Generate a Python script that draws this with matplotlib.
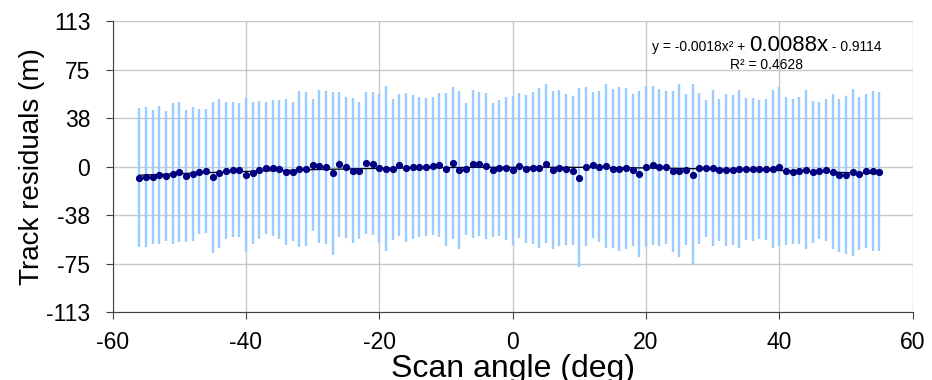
import numpy as np
import matplotlib
matplotlib.use('Agg')
import matplotlib.pyplot as plt

# Dados: ângulo de varredura (graus), resíduo médio e desvio (m)
angulo = list(range(-56, 56))

residuo = [
    -8.7, -8.0, -8.2, -6.7, -7.5, -5.7, -4.4, -7.5, -5.7, -4.1, -3.6, -8.5, -5.1, -3.1, -2.6, -2.8, -6.9, -4.9, -2.7,
    -1.3, -1.3, -2.3, -4.1, -4.1, -2.1, -2.1, 1.5, 0.3, -0.5, -5.4, 1.8, -0.5, -3.1, -3.3, 2.6, 2.1, -1.5,
    -1.8, -2.1, 1.3, -0.8, -0.5, -0.5, -0.5, 0.3, 1.3, -2.1, 2.6, -2.6, -2.1, 1.8, 1.8, 0.3, -2.6, -1.3, -1.5,
    -2.8, 0.5, -2.1, -1.0, -1.0, 2.1, -2.6, -1.3, -2.3, -3.1, -8.7, -0.3, 1.0, 0.0, 0.5, -1.8, -1.8, -1.3, -2.6,
    -5.9, 0.0, 1.0, -0.5, -0.5, -3.6, -3.3, -2.6, -6.4, -1.5, -1.5, -1.0, -2.6, -2.6, -2.8, -1.8, -2.1, -2.3, -2.1,
    -2.3, -1.8, 0.0, -3.6, -3.9, -3.3, -2.6, -4.1, -3.1, -2.6, -4.1, -6.9, -6.7, -4.6, -5.7, -3.3, -3.6, -3.9,
]

desvio = [
    53.9, 54.2, 52.0, 53.5, 50.7, 54.8, 54.4, 51.3, 51.8, 48.6, 48.4, 58.4, 57.9, 52.9, 52.5, 52.1, 59.8, 55.0, 53.9,
    51.1, 52.6, 54.2, 56.8, 54.1, 60.6, 59.8, 51.2, 59.4, 59.3, 63.2, 56.4, 54.8, 56.3, 53.2, 55.2, 55.4, 57.6,
    64.0, 54.6, 54.9, 58.1, 55.8, 54.1, 53.4, 53.6, 55.8, 59.4, 58.8, 61.6, 51.3, 57.5, 55.8, 56.6, 52.1, 52.8, 55.6,
    57.9, 56.4, 57.6, 59.0, 62.2, 61.7, 61.5, 60.6, 58.5, 57.5, 69.7, 61.7, 56.8, 58.5, 63.9, 61.7, 63.9, 62.4, 59.3,
    64.3, 62.2, 61.6, 61.0, 59.3, 62.5, 67.0, 58.6, 70.2, 58.6, 53.0, 60.8, 54.9, 59.3, 58.0, 61.1, 55.3, 55.5, 54.0,
    54.9, 61.5, 61.7, 57.2, 56.1, 57.1, 61.7, 55.2, 53.2, 55.4, 60.2, 59.5, 61.1, 65.0, 59.4, 59.9, 62.1, 61.7,
]

yticks = [-113, -75.33, -37.67, 0, 37.67, 75.33, 113]
ytick_labels = ['-113', '-75', '-38', '0', '38', '75', '113']
xticks = [-60, -40, -20, 0, 20, 40, 60]

plt.rcParams['font.family'] = ['Liberation Sans', 'DejaVu Sans']
plt.rcParams['axes.unicode_minus'] = False

fig = plt.figure(figsize=(9.32, 3.8), dpi=100)
ax = fig.add_axes([0.1208, 0.1789, 0.8584, 0.7658])

# Barras de erro (desvio)
ax.errorbar(angulo, residuo, yerr=desvio, fmt='none', ecolor='#99CCFF',
            elinewidth=1.7, capsize=0, zorder=2)

# Linha de tendência polinomial de 2a ordem
coef = np.polyfit(angulo, residuo, 2)
xs = np.linspace(min(angulo), max(angulo), 200)
ax.plot(xs, np.polyval(coef, xs), color='black', linewidth=0.9, zorder=3)

# Pontos médios
ax.plot(angulo, residuo, 'o', color='#000080', markersize=4.2, zorder=4)

ax.set_xlim(-60, 60)
ax.set_ylim(-113, 113)
ax.set_xticks(xticks)
ax.set_yticks(yticks)
ax.set_yticklabels(ytick_labels)

ax.grid(True, color='#C8C8C8', linewidth=1.0, zorder=0)
ax.set_axisbelow(True)

for lado in ['top', 'right']:
    ax.spines[lado].set_visible(False)
ax.spines['left'].set_color('#404040')
ax.spines['bottom'].set_color('#404040')

ax.tick_params(axis='y', labelsize=16.5, length=5, pad=11, color='#404040')
ax.tick_params(axis='x', labelsize=16.5, length=5, pad=9, color='#404040')

ax.set_ylabel('Track residuals (m)', fontsize=20)
ax.yaxis.set_label_coords(-0.085, 0.5)
ax.set_xlabel('Scan angle (deg)', fontsize=23)
ax.xaxis.set_label_coords(0.5, -0.145)

# Equação da tendência, no estilo do Excel (tamanhos misturados)
y_eq = 1 - 50.7 / 380
partes = [('y = -0.0018x\u00b2 + ', 10), ('0.0088x', 16), (' - 0.9114', 10)]
fig.canvas.draw()
renderer = fig.canvas.get_renderer()
x_px = 651.7
for texto, tam in partes:
    t = fig.text(x_px / 932, y_eq, texto, fontsize=tam, va='baseline', ha='left')
    x_px += t.get_window_extent(renderer).width
fig.text(766 / 932, 1 - 69 / 380, 'R\u00b2 = 0.4628', fontsize=10, va='baseline', ha='center')

plt.savefig('out.png', dpi=100)
